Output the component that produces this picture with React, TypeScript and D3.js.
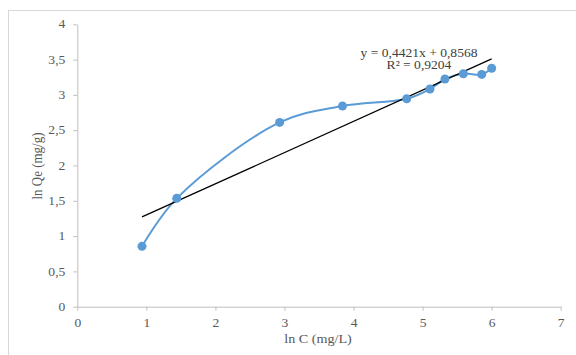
import React, { useEffect, useRef } from 'react';
import * as d3 from 'd3';

// ln C and ln Qe readings
const lnC = [0.937, 1.44, 2.93, 3.84, 4.77, 5.107, 5.324, 5.59, 5.856, 6.0];
const lnQe = [0.855, 1.535, 2.61, 2.843, 2.946, 3.084, 3.225, 3.3, 3.29, 3.377];
const xTicks = [0, 1, 2, 3, 4, 5, 6, 7];
const yTicks = [0, 0.5, 1, 1.5, 2, 2.5, 3, 3.5, 4];
const slope = 0.4421;
const intercept = 0.8568;
const eqLabel = 'y = 0,4421x + 0,8568';
const r2Label = 'R² = 0,9204';

const fmt = (v: number) => String(v).replace('.', ',');

export default function App() {
  const ref = useRef<SVGSVGElement>(null);

  useEffect(() => {
    const svg = d3.select(ref.current);
    svg.selectAll('*').remove();

    const x = d3.scaleLinear().domain([0, 7]).range([77.3, 560.7]);
    const y = d3.scaleLinear().domain([0, 4]).range([306.7, 24.3]);
    const font = '"Liberation Serif", "Times New Roman", serif';
    const sx = 1.18; // text in the picture is a little wide

    // chart frame
    svg.append('rect')
      .attr('x', 8.5).attr('y', 10.5)
      .attr('width', 600).attr('height', 400)
      .attr('fill', '#fff').attr('stroke', '#d9d9d9');

    // axes
    const xAxis = svg.append('g').attr('transform', `translate(0,${y(0)})`)
      .call(d3.axisBottom(x).tickValues(xTicks).tickSize(4).tickSizeOuter(0).tickFormat(d => fmt(+d)));
    const yAxis = svg.append('g').attr('transform', `translate(${x(0)},0)`)
      .call(d3.axisLeft(y).tickValues(yTicks).tickSize(4).tickSizeOuter(0).tickFormat(d => fmt(+d)));
    [xAxis, yAxis].forEach(g => {
      g.attr('font-family', font).attr('font-size', 11.5);
      g.select('.domain').attr('stroke', '#bfbfbf');
      g.selectAll('.tick line').attr('stroke', '#bfbfbf');
      g.selectAll('.tick text').attr('fill', '#595959')
        .attr('transform', `scale(${sx},1)`);
    });
    xAxis.selectAll('.tick text').attr('dy', '1.15em');
    yAxis.selectAll('.tick text').attr('x', -12 / sx);

    const pts = lnC.map((c, i) => [c, lnQe[i]] as [number, number]);

    // data series, smoothed
    const line = d3.line<[number, number]>()
      .x(d => x(d[0])).y(d => y(d[1]))
      .curve(d3.curveCatmullRom.alpha(0.5));
    svg.append('path').datum(pts)
      .attr('d', line)
      .attr('fill', 'none').attr('stroke', '#5b9bd5').attr('stroke-width', 2);

    // linear trendline
    const x0 = d3.min(lnC) as number;
    const x1 = d3.max(lnC) as number;
    svg.append('line')
      .attr('x1', x(x0)).attr('y1', y(slope * x0 + intercept))
      .attr('x2', x(x1)).attr('y2', y(slope * x1 + intercept))
      .attr('stroke', '#000').attr('stroke-width', 1.3);

    svg.selectAll('circle.pt').data(pts).enter().append('circle')
      .attr('class', 'pt')
      .attr('cx', d => x(d[0])).attr('cy', d => y(d[1]))
      .attr('r', 4.5).attr('fill', '#5b9bd5');

    // trendline label
    const lbl = svg.append('text')
      .attr('transform', `translate(419,0) scale(${sx},1)`)
      .attr('text-anchor', 'middle').attr('fill', '#404040')
      .style('font-family', font).style('font-size', '11.5px');
    lbl.append('tspan').attr('x', 0).attr('y', 57).text(eqLabel);
    lbl.append('tspan').attr('x', 0).attr('y', 69.5).text(r2Label);

    // axis titles
    svg.append('text')
      .attr('transform', `translate(318,343) scale(${sx},1)`)
      .attr('text-anchor', 'middle')
      .attr('fill', '#595959')
      .style('font-family', font).style('font-size', '12px')
      .text('ln C (mg/L)');
    svg.append('text')
      .attr('transform', `translate(42,166) rotate(-90) scale(1,${sx})`)
      .attr('text-anchor', 'middle').attr('fill', '#595959')
      .style('font-family', font).style('font-size', '13px')
      .text('ln Qe (mg/g)');
  }, []);

  return (
    <svg ref={ref} width={576} height={355}
      style={{ position: 'absolute', left: 0, top: 0, display: 'block' }} />
  );
}
